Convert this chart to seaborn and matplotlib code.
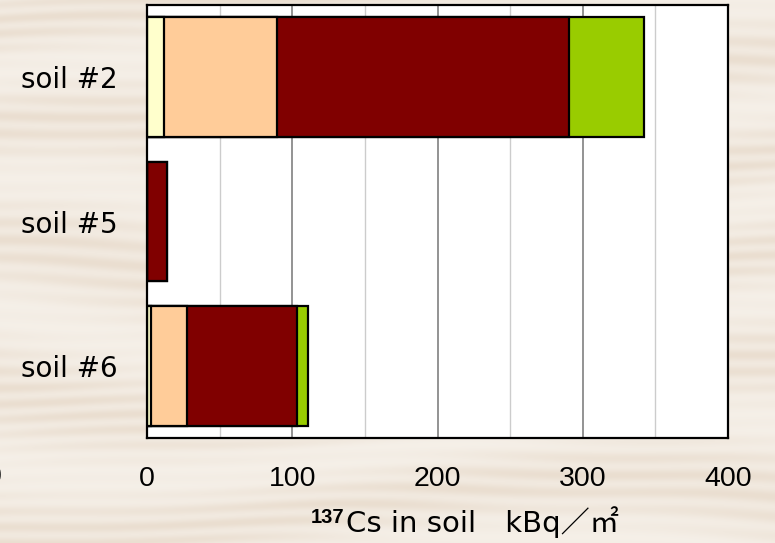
import numpy as np
import pandas as pd
import matplotlib.pyplot as plt
import seaborn as sns
from matplotlib.ticker import MultipleLocator

# values (kBq/m2), one list per stacked segment
soils = ['soil #2', 'soil #5', 'soil #6']
seg_yellow = [11.7, 0.0, 3.0]
seg_peach = [77.8, 0.0, 24.5]
seg_red = [201.0, 14.0, 75.5]
seg_green = [51.5, 0.0, 8.0]

x_ticks = [0, 100, 200, 300, 400]
colors = ['#FFFFCC', '#FFCC99', '#800000', '#99CC00']

df = pd.DataFrame({
    'soil': soils,
    'yellow': seg_yellow,
    'peach': seg_peach,
    'red': seg_red,
    'green': seg_green,
})
segments = ['yellow', 'peach', 'red', 'green']
cum = df[segments].cumsum(axis=1)
cum['soil'] = df['soil']

plt.rcParams['font.family'] = ['DejaVu Sans', 'Noto Sans CJK JP']

fig = plt.figure(figsize=(7.75, 5.43), dpi=100)

# pale wood-grain backdrop behind the plot
h, w = 543, 775
yy, xx = np.mgrid[0:h, 0:w]
grain = np.sin(yy / 2.7 + 3.0 * np.sin(xx / 230.0 + yy / 80.0) + 0.8 * np.sin(xx / 57.0 + yy / 35.0))
band = np.sin(yy / 19.0 + 1.6 * np.sin(xx / 160.0 + yy / 120.0))
t = 0.5 + 0.25 * grain * (0.6 + 0.4 * band) + 0.25 * band
t = np.clip(t, 0, 1)
light = np.array([248, 244, 238]) / 255
dark = np.array([234, 222, 208]) / 255
bg = light * (1 - t[..., None]) + dark * t[..., None]
fig.figimage(bg, xo=0, yo=0, zorder=-1)

ax = fig.add_axes([147 / 775, 1 - 438 / 543, (728 - 147) / 775, (438 - 5) / 543])
ax.set_facecolor('white')

# stacked bars: draw cumulative totals from the outside in
for seg, col in zip(segments[::-1], colors[::-1]):
    sns.barplot(
        data=cum, x=seg, y='soil', orient='h', color=col, saturation=1,
        edgecolor='black', linewidth=1.6, width=0.83, ax=ax,
    )

ax.set_xlim(0, 400)
ax.set_ylim(2.5, -0.5)
ax.xaxis.set_major_locator(MultipleLocator(100))
ax.xaxis.set_minor_locator(MultipleLocator(50))
ax.set_xticks(x_ticks)
ax.grid(which='major', axis='x', color='#808080', linewidth=1.2)
ax.grid(which='minor', axis='x', color='#CCCCCC', linewidth=1.0)
ax.grid(which='major', axis='y', visible=False)
ax.set_axisbelow(True)

ax.tick_params(axis='both', which='both', length=0)
ax.tick_params(axis='x', pad=20)
ax.tick_params(axis='y', pad=21, labelsize=20)
for lbl in ax.get_xticklabels():
    lbl.set_family(['Liberation Sans'])
    lbl.set_fontsize(20.5)
ax.set_xlabel('')
ax.set_ylabel('')
for s in ax.spines.values():
    s.set_color('black')
    s.set_linewidth(1.6)

# x-axis title with bold mass number in front
lab = fig.text(346 / 775, 1 - 532 / 543, 'Cs in soil\u3000kBq／㎡', fontsize=21,
               ha='left', va='baseline')
ax.annotate('137', xy=(0, 1), xycoords=lab, xytext=(-1, -1), textcoords='offset points',
            ha='right', va='top', fontsize=14.5, fontweight='bold',
            family=['Liberation Sans'])

# clipped leftover tick label at the far left edge
fig.text(-6 / 775, 1 - 477 / 543, '0', fontsize=20.5, ha='center', va='center',
         family=['Liberation Sans'])

fig.savefig('out.png', dpi=100)
